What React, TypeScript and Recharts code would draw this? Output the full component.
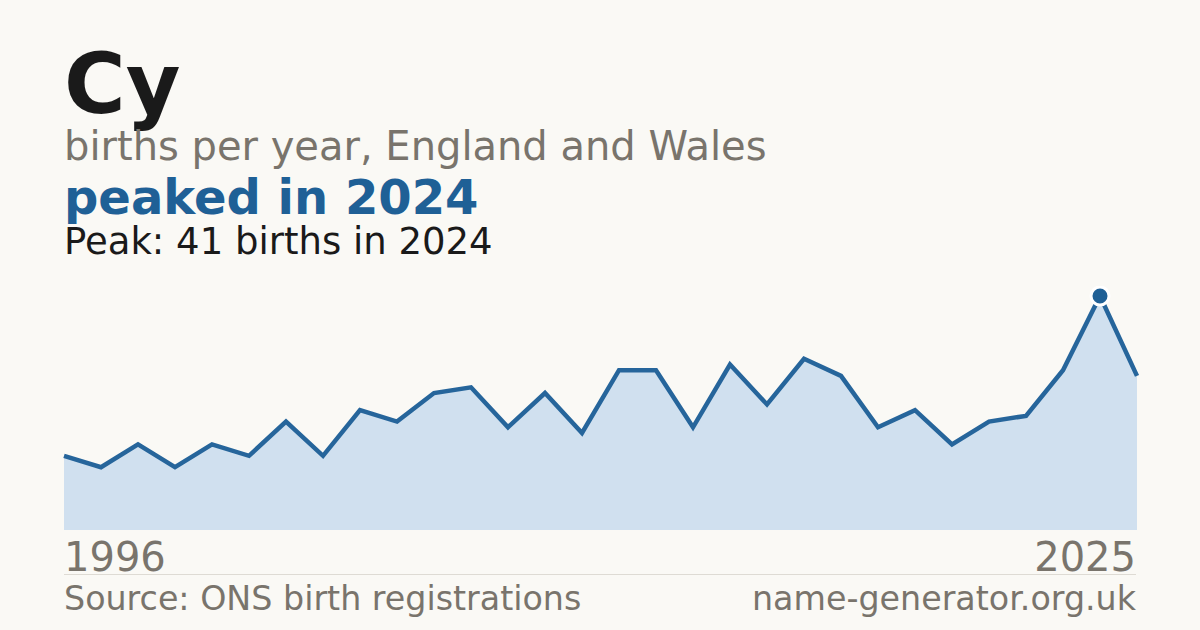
import React from "react";
import { AreaChart, Area, XAxis, YAxis, ReferenceDot } from "recharts";

const years = [
  1996, 1997, 1998, 1999, 2000, 2001, 2002, 2003, 2004, 2005,
  2006, 2007, 2008, 2009, 2010, 2011, 2012, 2013, 2014, 2015,
  2016, 2017, 2018, 2019, 2020, 2021, 2022, 2023, 2024, 2025,
];
const births = [
  13, 11, 15, 11, 15, 13, 19, 13, 21, 19,
  24, 25, 18, 24, 17, 28, 28, 18, 29, 22,
  30, 27, 18, 21, 15, 19, 20, 28, 41, 27,
];
const peakYear = 2024;
const peakBirths = 41;

const data = years.map((year, i) => ({ year, births: births[i] }));

const font = "'DejaVu Sans', Verdana, sans-serif";
const grey = "#79746c";
const blue = "#1f6096";

export default function App() {
  return (
    <div style={{ position: "relative", width: 1200, height: 630, background: "#faf9f5", fontFamily: font, overflow: "hidden" }}>
      <style>{`body{margin:0}`}</style>
      <svg width={1200} height={630} style={{ position: "absolute", left: 0, top: 0 }}>
        <text x={64} y={113} fontSize={84} fontWeight="bold" fill="#1a1a1a">Cy</text>
        <text x={64} y={160} fontSize={40} fill={grey}>births per year, England and Wales</text>
        <text x={64} y={214} fontSize={48} fontWeight="bold" fill={blue}>peaked in {peakYear}</text>
        <text x={64} y={254} fontSize={37} fill="#1a1a1a">Peak: {peakBirths} births in {peakYear}</text>
        <text x={64} y={571} fontSize={40} fill={grey}>{years[0]}</text>
        <text x={1136} y={571} fontSize={40} fill={grey} textAnchor="end">{years[years.length - 1]}</text>
        <line x1={64} x2={1136} y1={574.5} y2={574.5} stroke="#dedbd4" strokeWidth={1} />
        <text x={64} y={610} fontSize={33.3} fill={grey}>Source: ONS birth registrations</text>
        <text x={1136} y={610} fontSize={33.3} fill={grey} textAnchor="end">name-generator.org.uk</text>
      </svg>
      <div style={{ position: "absolute", left: 54, top: 286 }}>
        <AreaChart width={1093} height={244} data={data} margin={{ top: 10, right: 10, left: 10, bottom: 0 }}>
          <XAxis dataKey="year" type="number" domain={["dataMin", "dataMax"]} hide />
          <YAxis domain={[0, "dataMax"]} hide />
          <Area
            type="linear"
            dataKey="births"
            stroke="#26659b"
            strokeWidth={4.5}
            fill="#d0e0ef"
            fillOpacity={1}
            dot={false}
            activeDot={false}
            isAnimationActive={false}
          />
          <ReferenceDot x={peakYear} y={peakBirths} r={9} fill={blue} stroke="#ffffff" strokeWidth={3} />
        </AreaChart>
      </div>
    </div>
  );
}
